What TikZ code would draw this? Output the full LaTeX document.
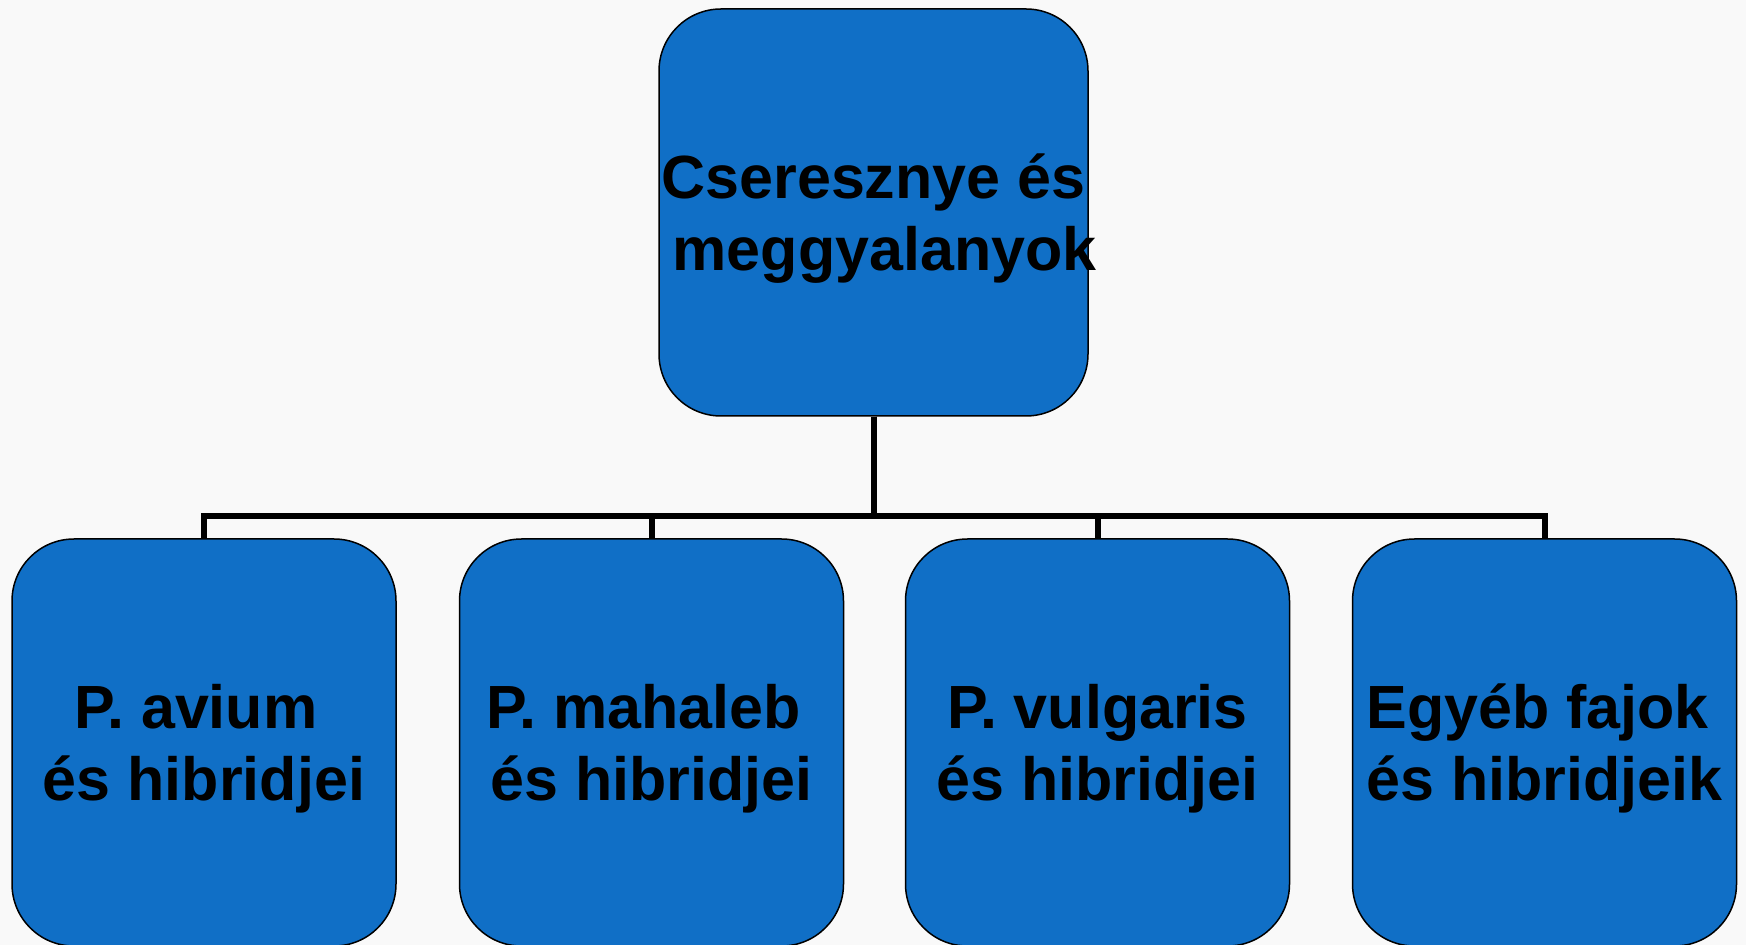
\documentclass[tikz,border=0pt]{standalone}
\usepackage{fontspec}
\setmainfont{Liberation Sans}
\newcommand\zl[1]{\makebox[0pt]{#1}}
\newcommand\twolines[2]{\zl{\rule{0pt}{32.5pt}#1}\\\zl{\rule[-10pt]{0pt}{10pt}#2}}
\definecolor{boxblue}{HTML}{106FC6}
\definecolor{bg}{HTML}{F9F9F9}
\begin{document}
\begin{tikzpicture}[x=0.5pt,y=-0.5pt,
  box/.style={draw=black,line width=0.75pt,fill=boxblue,rounded corners=31pt,
    minimum width=192pt,minimum height=203.5pt,inner sep=0pt,align=center,
    font=\bfseries\fontsize{30.5pt}{36pt}\selectfont},
  topbox/.style={box,minimum width=214.5pt},
  conn/.style={draw=black,line width=3pt}]
\fill[bg] (0,0) rectangle (1746,945);
\useasboundingbox (0,0) rectangle (1746,945);
\coordinate (bus) at (0,516);
\node[topbox] (top) at (873.5,212.5) {\twolines{Cseresznye és}{\hspace*{11pt}meggyalanyok}};
\node[box] (c1) at (204,742.5) {\twolines{P. avium\hspace*{8pt}}{és hibridjei}};
\node[box] (c2) at (651.5,742.5) {\twolines{P. mahaleb\hspace*{8pt}}{és hibridjei}};
\node[box] (c3) at (1097.5,742.5) {\twolines{P. vulgaris}{és hibridjei}};
\node[box] (c4) at (1544.5,742.5) {\twolines{Egyéb fajok\hspace*{7pt}}{és hibridjeik}};
\foreach \c in {c1,c2,c3,c4}
  \draw[conn] (top.south) -- (top.south |- bus) -| (\c.north);
\end{tikzpicture}
\end{document}
